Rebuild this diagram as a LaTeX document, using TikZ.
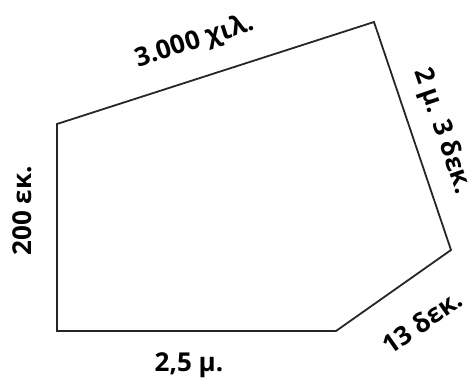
\documentclass[tikz,border=0pt]{standalone}
\usepackage{fontspec}
\setmainfont{Open Sans}
\begin{document}
\begin{tikzpicture}[x=1pt,y=-1pt,
  edge/.style={line width=1.8pt,draw=black!85,line join=miter},
  lbl/.style={font=\fontsize{26}{30}\selectfont\bfseries,inner sep=0pt}]
\useasboundingbox (0,0) rectangle (471,382);
\coordinate (A) at (57,124);
\coordinate (B) at (374,22);
\coordinate (C) at (451,250);
\coordinate (D) at (336,331);
\coordinate (E) at (57,331);
\draw[edge] (A) -- (B) -- (C) -- (D) -- (E) -- cycle;
\node[lbl,rotate=17.8] (t1) at (195,42) {3.000 χιλ.};
\node[lbl,rotate=-71] (t2) at (442,131) {2 μ. 3 δεκ.};
\node[lbl,rotate=35] (t3) at (422,322) {13 δεκ.};
\node[lbl] (t4) at (189,365) {2,5 μ.};
\node[lbl,rotate=90] (t5) at (22,211) {200 εκ.};
\end{tikzpicture}
\end{document}
